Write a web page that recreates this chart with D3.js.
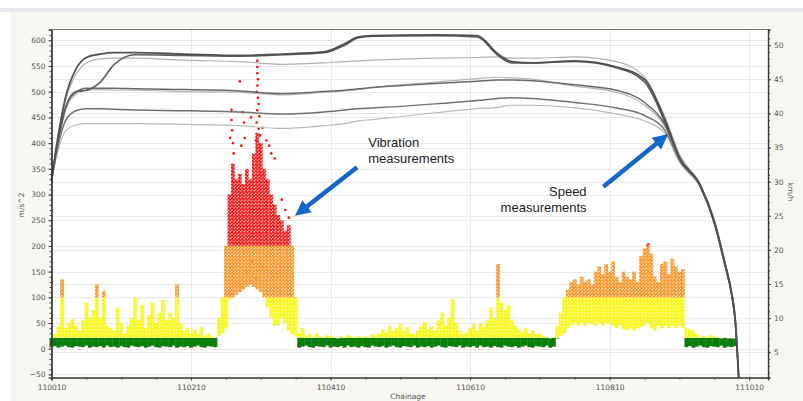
<!DOCTYPE html>
<html>
<head>
<meta charset="utf-8">
<script src="https://cdn.jsdelivr.net/npm/d3@7/dist/d3.min.js"></script>
<style>
body { margin: 0; background: #fff; }
text { font-family: "DejaVu Sans", Verdana, sans-serif; }
</style>
</head>
<body>
<div id="chart"></div>
<script>

// vibration: one bin every 5 m of chainage, low / high edge of the point cloud (m/s^2)
var binStart = 110010, binStep = 5;
var vibLo = [
  3,5,2,4,6,3,2,5,4,3, 6,2,4,3,5,2,6,3,4,2, 5,3,2,6,4,3,5,2,4,6, 3,2,5,4,3,6,2,4,3,5, 2,4,6,3,2,5,4,3,
  25,30,40,95,100,105,110,115,120,125,120,115,110,100,80,60,45,45,60,50,35,28,25,
  2,4,6,3,2,5,4,3,6, 2,4,3,5,2,6,3,4,2,5, 3,2,6,4,3,5,2,4,6,3, 2,5,4,3,6,2,4,3,5,2,
  4,6,3,2,5,4,3,6,2,4, 3,5,2,6,3,4,2,5,3,2, 6,4,3,5,2,4,6,3,2,5, 4,3,6,2,4,
  20,25,30,40,45,50,45,50,45,50, 48,45,50,45,50,48,45,40,45,38, 35,40,35,40,42,45,50,40,35,45,
  40,45,40,45,40,45,40,
  3,5,2,4,6,3,2,5,4,3,6,2,4,3,5
];
var vibHi = [
  20,28,45,135,40,50,58,45,35,55, 90,60,75,125,60,112,45,40,35,80,
  50,30,45,60,100,55,85,40,65,90, 50,70,95,55,70,60,125,50,35,40,
  30,38,28,42,25,30,24,22,
  60,100,200,300,360,330,340,320,350,330,380,420,400,350,330,300,280,260,250,230,240,200,100,
  30,40,25,28,22,30,24,22,26, 25,22,20,24,22,26,24,22,25,22,
  24,22,28,26,30,38,32,45,35,40, 48,35,42,30,28,35,45,52,38,44,
  35,55,70,45,60,97,50,35,28,32, 40,48,35,50,42,55,80,60,165,90,
  75,85,55,45,38,32,40,30,35,28, 30,25,22,20,22,
  45,70,100,115,130,135,125,140,130,135, 125,150,160,145,165,150,170,140,130,150,
  140,135,150,130,180,195,205,185,140,130, 165,170,145,175,160,150,155,
  40,38,35,28,22,25,22,26,24,22,20,22,20,20,20
];
// isolated points above the cloud [chainage, m/s^2]
var vibPeaks = [
  [110268, 465], [110268, 445], [110269, 425], [110270, 400], [110271, 380], [110266, 410],
  [110280, 520], [110284, 460], [110286, 440], [110287, 410], [110282, 395],
  [110305, 560], [110305, 548], [110305, 536], [110306, 524], [110305, 512], [110304, 500],
  [110306, 488], [110307, 476], [110305, 464], [110308, 452], [110304, 440], [110307, 428],
  [110309, 415], [110303, 405],
  [110296, 450], [110312, 430], [110318, 405], [110322, 395], [110325, 380], [110330, 370],
  [110340, 290], [110345, 270], [110350, 255],
  [110290, 150], [110297, 170], [110313, 160], [110303, 135]
];

// speed runs (km/h) at these chainages
var spdChainage = [110010, 110020, 110030, 110045, 110060, 110080, 110100, 110130, 110200, 110280,
  110340, 110400, 110430, 110450, 110470, 110560, 110620, 110650, 110670, 110700,
  110760, 110820, 110860, 110890, 110910, 110940, 110960, 110975, 110985, 110990, 110995];
var run1 = [30.2, 37.0, 42.3, 46.5, 48.2, 48.7, 48.9, 48.9, 48.7, 48.5, 48.7, 49.0, 50.2, 51.2, 51.4, 51.5,
  51.4, 48.7, 47.6, 47.4, 47.7, 46.8, 45.0, 38.9, 33.6, 29.5, 24.2, 18.2, 13.6, 9.9, 1.3];
var run2 = [30.2, 36.3, 40.8, 43.2, 43.4, 44.6, 47.2, 48.6, 48.5, 48.4, 48.6, 48.9, 50.0, 51.1, 51.3, 51.4,
  51.2, 48.5, 47.4, 47.4, 47.6, 46.7, 44.6, 38.5, 33.4, 29.3, 23.9, 17.8, 13.3, 9.5, 1.3];
var run3 = [30.2, 37.0, 41.9, 45.7, 47.4, 48.0, 48.1, 48.1, 47.8, 47.6, 47.2, 47.4, 47.6, 47.7, 47.8, 48.1,
  48.2, 48.3, 48.1, 48.1, 48.3, 47.6, 45.3, 39.3, 34.0, 29.6, 24.4, 18.3, 13.8, 10.0, 1.3];
var run4 = [30.2, 36.3, 40.8, 43.1, 43.7, 43.7, 43.7, 43.6, 43.5, 43.3, 42.9, 43.2, 43.4, 43.6, 43.8, 44.4,
  44.7, 44.9, 44.9, 44.8, 44.2, 43.4, 41.6, 38.2, 33.4, 29.5, 24.2, 18.2, 13.6, 9.9, 1.3];
var run5 = [30.2, 35.9, 40.4, 42.8, 43.4, 43.5, 43.4, 43.4, 43.2, 43.1, 42.7, 43.1, 43.3, 43.5, 43.8, 44.6,
  45.1, 45.3, 45.2, 45.0, 44.0, 43.1, 41.2, 37.9, 33.3, 29.3, 24.1, 18.0, 13.5, 9.7, 1.3];
var run6 = [30.2, 35.5, 38.9, 40.4, 40.7, 40.7, 40.6, 40.5, 40.4, 40.2, 39.9, 40.2, 40.5, 40.7, 40.8, 41.4,
  41.9, 42.2, 42.3, 42.2, 41.6, 40.8, 39.7, 37.4, 33.1, 29.3, 24.1, 18.0, 13.5, 9.7, 1.3];
var run7 = [30.2, 34.8, 37.4, 38.3, 38.5, 38.5, 38.5, 38.5, 38.4, 38.2, 37.8, 38.2, 38.5, 38.9, 39.1, 40.1,
  40.7, 40.9, 41.2, 41.2, 40.8, 39.9, 38.9, 37.0, 32.9, 29.1, 23.8, 17.8, 13.3, 9.5, 1.3];
var runs = [run1, run2, run3, run4, run5, run6, run7];
var runColor = ["#505050", "#5c5c5c", "#b0b0b0", "#6a6a6a", "#b6b6b6", "#707070", "#bababa"];
var runWidth = [1.8, 1.6, 1.2, 1.5, 1.2, 1.5, 1.2];

var xTicks = [110010, 110210, 110410, 110610, 110810, 111010];
var accTicks = [-50, 0, 50, 100, 150, 200, 250, 300, 350, 400, 450, 500, 550, 600];
var spdTicks = [5, 10, 15, 20, 25, 30, 35, 40, 45, 50];

// colour bands for the vibration level
var bands = [
  {name: "g", lo: -100, hi: 21, color: "#0b7d0b"},
  {name: "y", lo: 21, hi: 100, color: "#f5f500"},
  {name: "o", lo: 100, hi: 200, color: "#f7901e"},
  {name: "r", lo: 200, hi: 1000, color: "#f01010"}
];

var width = 803,
    height = 401;
var pLeft = 51.5, pRight = 768, pTop = 29.5, pBottom = 377.5;

var x = d3.scaleLinear().domain([110010, 111037]).range([pLeft, pRight]);
var yAcc = d3.scaleLinear().domain([-56, 621]).range([pBottom, pTop]);
var ySpd = d3.scaleLinear().domain([1.3, 52.3]).range([pBottom, pTop]);

function bandColor(v) {
  for (var i = 0; i < bands.length; i++) {
    if (v < bands[i].hi) return bands[i].color;
  }
  return bands[bands.length - 1].color;
}

var svg = d3.select("#chart").append("svg")
    .attr("width", width)
    .attr("height", height);
var defs = svg.append("defs");

// speckled fill so the cloud reads as points, not bars
bands.forEach(function (b) {
  var p = defs.append("pattern")
      .attr("id", "dots-" + b.name)
      .attr("patternUnits", "userSpaceOnUse")
      .attr("width", 3.4).attr("height", 3.4);
  p.append("circle").attr("cx", 0.85).attr("cy", 0.85).attr("r", 1.42).attr("fill", b.color);
  p.append("circle").attr("cx", 2.55).attr("cy", 2.55).attr("r", 1.42).attr("fill", b.color);
});

// window frame
svg.append("rect").attr("width", width).attr("height", height).attr("fill", "#fff");
svg.append("rect").attr("x", 0).attr("y", 8).attr("width", width).attr("height", 4).attr("fill", "#e7eaee");
svg.append("rect").attr("x", 10).attr("y", 12).attr("width", width - 10).attr("height", height - 12).attr("fill", "#f7f6f1");
svg.append("rect").attr("x", pLeft).attr("y", pTop).attr("width", pRight - pLeft).attr("height", pBottom - pTop).attr("fill", "#fff");

// grid
var grid = svg.append("g").attr("stroke", "#e9e9e9").attr("stroke-width", 1);
grid.selectAll(".ga").data(accTicks).enter().append("line")
    .attr("x1", pLeft).attr("x2", pRight)
    .attr("y1", function (d) { return Math.round(yAcc(d)) + 0.5; })
    .attr("y2", function (d) { return Math.round(yAcc(d)) + 0.5; });
grid.selectAll(".gs").data(spdTicks).enter().append("line")
    .attr("x1", pLeft).attr("x2", pRight)
    .attr("y1", function (d) { return Math.round(ySpd(d)) + 0.5; })
    .attr("y2", function (d) { return Math.round(ySpd(d)) + 0.5; });
grid.selectAll(".gx").data(xTicks.slice(1)).enter().append("line")
    .attr("y1", pTop).attr("y2", pBottom)
    .attr("x1", function (d) { return Math.round(x(d)) + 0.5; })
    .attr("x2", function (d) { return Math.round(x(d)) + 0.5; });

// vibration cloud
var bw = x(binStart + binStep) - x(binStart);
var segs = [];
vibHi.forEach(function (hi, i) {
  var lo = vibLo[i];
  var c = binStart + i * binStep;
  bands.forEach(function (b) {
    var s0 = Math.max(lo, b.lo), s1 = Math.min(hi, b.hi);
    if (s1 > s0) segs.push({c: c, v0: s0, v1: s1, band: b});
  });
});

svg.append("g").selectAll("rect")
    .data(segs)
    .enter().append("rect")
    .attr("x", function (d) { return x(d.c) - bw * 0.55; })
    .attr("width", bw * 1.1)
    .attr("y", function (d) { return yAcc(d.v1); })
    .attr("height", function (d) { return yAcc(d.v0) - yAcc(d.v1); })
    .attr("fill", function (d) { return d.band.name === "g" ? d.band.color : "url(#dots-" + d.band.name + ")"; });

svg.append("g").selectAll("circle")
    .data(vibPeaks)
    .enter().append("circle")
    .attr("cx", function (d) { return x(d[0]); })
    .attr("cy", function (d) { return yAcc(d[1]); })
    .attr("r", 1.3)
    .attr("fill", function (d) { return bandColor(d[1]); });

// speed runs
var line = d3.line()
    .x(function (d, i) { return x(spdChainage[i]); })
    .y(function (d) { return ySpd(d); })
    .curve(d3.curveMonotoneX);

var order = d3.range(runs.length).reverse();
svg.append("g").selectAll("path")
    .data(order)
    .enter().append("path")
    .attr("d", function (k) { return line(runs[k]); })
    .attr("fill", "none")
    .attr("stroke", function (k) { return runColor[k]; })
    .attr("stroke-width", function (k) { return runWidth[k]; });

// axes
svg.append("g")
    .attr("transform", "translate(" + pLeft + ",0)")
    .call(d3.axisLeft(yAcc).tickValues(accTicks).tickSize(3).tickPadding(3));
svg.append("g")
    .attr("transform", "translate(" + pLeft + ",0)")
    .call(d3.axisLeft(yAcc).tickValues(d3.range(-50, 621, 10)).tickSize(2).tickFormat(""));

svg.append("g")
    .attr("transform", "translate(" + pRight + ",0)")
    .call(d3.axisRight(ySpd).tickValues(spdTicks).tickSize(3).tickPadding(3));
svg.append("g")
    .attr("transform", "translate(" + pRight + ",0)")
    .call(d3.axisRight(ySpd).tickValues(d3.range(2, 53, 1)).tickSize(2).tickFormat(""));

svg.append("g")
    .attr("transform", "translate(0," + pBottom + ")")
    .call(d3.axisBottom(x).tickValues(xTicks).tickSize(3).tickPadding(4).tickFormat(d3.format("d")));
svg.append("g")
    .attr("transform", "translate(0," + pBottom + ")")
    .call(d3.axisBottom(x).tickValues(d3.range(110060, 111037, 50)).tickSize(2).tickFormat(""));

svg.selectAll(".domain").attr("stroke", "#333").attr("stroke-width", 1.2);
svg.selectAll(".tick line").attr("stroke", "#444");
svg.selectAll(".tick text").attr("fill", "#555").style("font-size", "7.5px").style("font-family", "'DejaVu Sans', Verdana, sans-serif");

// top edge of the plot
svg.append("line").attr("x1", pLeft).attr("x2", pRight).attr("y1", pTop).attr("y2", pTop)
    .attr("stroke", "#777").attr("stroke-width", 1);

// axis titles
svg.append("text").attr("transform", "translate(24,205) rotate(-90)")
    .attr("text-anchor", "middle").attr("fill", "#555").style("font-size", "7.5px").text("m/s^2");
svg.append("text").attr("transform", "translate(788,192) rotate(90)")
    .attr("text-anchor", "middle").attr("fill", "#555").style("font-size", "7.5px").text("km/h");
svg.append("text").attr("x", 408).attr("y", 399)
    .attr("text-anchor", "middle").attr("fill", "#555").style("font-size", "7.5px").text("Chainage");

// annotations
defs.append("marker")
    .attr("id", "head")
    .attr("viewBox", "0 0 10 10")
    .attr("refX", 6).attr("refY", 5)
    .attr("markerWidth", 3.4).attr("markerHeight", 3.4)
    .attr("orient", "auto")
    .append("path").attr("d", "M0,0 L10,5 L0,10 z").attr("fill", "#1667c9");

var notes = [
  {lines: ["Vibration", "measurements"], c: 110464, a: 392, anchor: "start",
   from: [110448, 353], to: [110366, 266]},
  {lines: ["Speed", "measurements"], c: 110777, a: 297, anchor: "end",
   from: [110801, 315], to: [110887, 410]}
];

notes.forEach(function (n) {
  svg.append("line")
      .attr("x1", x(n.from[0])).attr("y1", yAcc(n.from[1]))
      .attr("x2", x(n.to[0])).attr("y2", yAcc(n.to[1]))
      .attr("stroke", "#1667c9").attr("stroke-width", 4.5)
      .attr("marker-end", "url(#head)");
  var t = svg.append("text")
      .attr("x", x(n.c)).attr("y", yAcc(n.a))
      .attr("text-anchor", n.anchor)
      .attr("fill", "#222")
      .style("font-family", "'Liberation Sans', Arial, sans-serif")
      .style("font-size", "13px");
  n.lines.forEach(function (s, i) {
    t.append("tspan").attr("x", x(n.c)).attr("dy", i ? 15.5 : 0).text(s);
  });
});

</script>
</body>
</html>
